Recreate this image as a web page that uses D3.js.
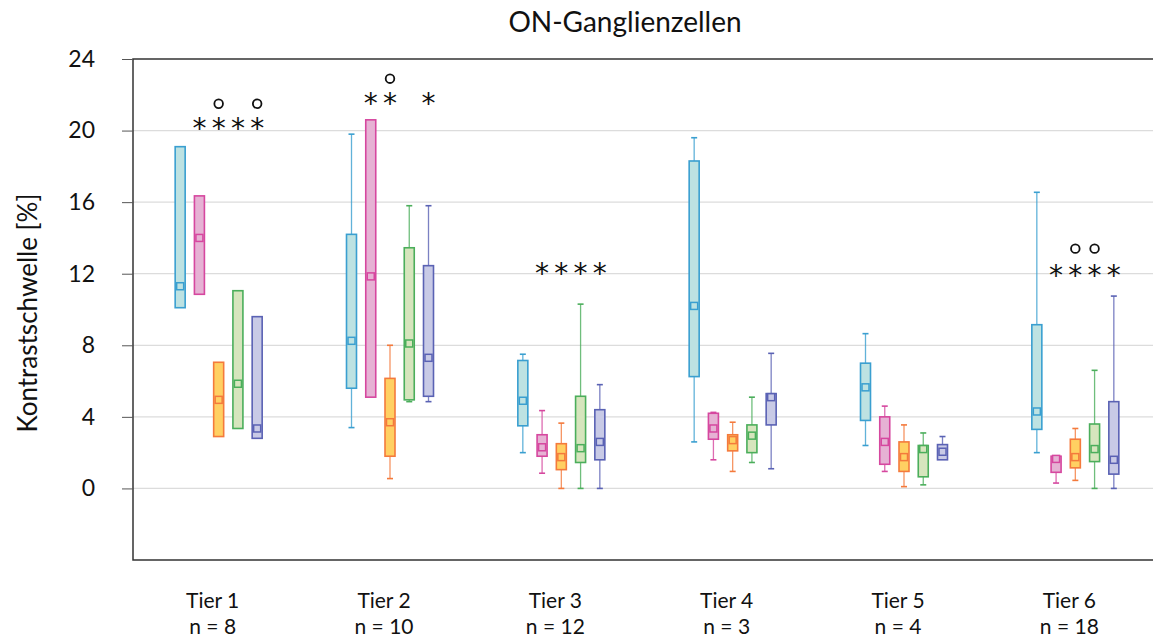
<!DOCTYPE html>
<html>
<head>
<meta charset="utf-8">
<script src="https://cdn.jsdelivr.net/npm/d3@7"></script>
<style>
  body { margin: 0; background: #fff; }
  text { font-family: Lato, "Open Sans", sans-serif; fill: #111; }
</style>
</head>
<body>
<svg id="chart" width="1153" height="639"></svg>
<script>
const tiers = ['Tier 1','Tier 2','Tier 3','Tier 4','Tier 5','Tier 6'];
const nValues = [8,10,12,3,4,18];
const yTicks = [0,4,8,12,16,20,24];

// box colours, one per series (cyan, pink, orange, green, purple)
const strokeCols = ['#3a9fd0','#d6479f','#f47a3c','#4bae5b','#5a62b4'];
const fillCols = ['#bde2e2','#e6b2d4','#ffd062','#d6e5bd','#c8cae6'];

// rows = tiers, columns = series
const lo = [
  [10.1,10.85,2.9,3.35,2.8],
  [3.4,5.1,0.55,4.85,4.85],
  [2.0,0.85,0,0,0],
  [2.6,1.6,0.95,1.45,1.1],
  [2.4,0.95,0.1,0.2,1.6],
  [2.0,0.3,0.45,0,0]
];
const q1 = [
  [10.1,10.85,2.9,3.35,2.8],
  [5.6,5.1,1.8,4.95,5.15],
  [3.5,1.8,1.05,1.45,1.6],
  [6.25,2.75,2.1,2.0,3.55],
  [3.8,1.35,0.95,0.65,1.6],
  [3.3,0.9,1.15,1.5,0.8]
];
const med = [
  [11.3,14.0,4.95,5.85,3.35],
  [8.25,11.85,3.7,8.1,7.3],
  [4.9,2.3,1.75,2.25,2.6],
  [10.2,3.35,2.7,2.95,5.1],
  [5.65,2.6,1.75,2.2,2.05],
  [4.3,1.65,1.75,2.2,1.6]
];
const q3 = [
  [19.1,16.35,7.05,11.05,9.6],
  [14.2,20.6,6.15,13.45,12.45],
  [7.15,3.0,2.5,5.15,4.4],
  [18.3,4.2,3.0,3.55,5.3],
  [7.0,4.0,2.6,2.4,2.45],
  [9.15,1.8,2.75,3.6,4.85]
];
const hi = [
  [19.1,16.35,7.05,11.05,9.6],
  [19.8,20.6,8.0,15.8,15.8],
  [7.5,4.35,3.65,10.3,5.8],
  [19.6,4.25,3.7,5.1,7.55],
  [8.65,4.6,3.55,3.1,2.9],
  [16.55,1.8,3.35,6.6,10.75]
];

// significance marks: tier index, series index, level
const stars = [
  [0,1,20.4],[0,2,20.4],[0,3,20.4],[0,4,20.4],
  [1,1,21.8],[1,2,21.8],[1,4,21.8],
  [2,1,12.3],[2,2,12.3],[2,3,12.3],[2,4,12.3],
  [5,1,12.2],[5,2,12.2],[5,3,12.2],[5,4,12.2]
];
const circles = [
  [0,2,21.5],[0,4,21.5],
  [1,2,22.9],
  [5,2,13.4],[5,3,13.4]
];

const svg = d3.select('#chart');
const plotL = 133, plotT = 59, plotB = 560, plotR = 1161;

const x = d3.scaleBand().domain(tiers).range([plotL, plotR]);
const sx = d3.scalePoint().domain(d3.range(5)).range([-38.5, 38.5]);
const y = d3.scaleLinear().domain([-4, 24]).range([plotB, plotT]);
const boxW = 10;

// gridlines
svg.append('g').selectAll('line')
  .data(yTicks.filter(t => t < 24))
  .join('line')
  .attr('x1', plotL).attr('x2', 1153)
  .attr('y1', d => y(d)).attr('y2', d => y(d))
  .attr('stroke', '#dcdcdc').attr('stroke-width', 1.3);

// frame
svg.append('path')
  .attr('d', `M1153,${plotT}H${plotL}V${plotB}H1153`)
  .attr('fill', 'none').attr('stroke', '#333').attr('stroke-width', 1.5);

// y axis
const yAxis = svg.append('g')
  .attr('transform', `translate(${plotL},0)`)
  .call(d3.axisLeft(y).tickValues(yTicks).tickSize(11).tickPadding(27));
yAxis.select('.domain').remove();
yAxis.selectAll('.tick line').attr('stroke', '#555');
yAxis.selectAll('.tick text')
  .style('font-family', 'Lato, sans-serif').style('font-size', '23px').attr('fill', '#1a1a1a');

// boxes
const items = [];
tiers.forEach((t, i) => {
  for (let s = 0; s < 5; s++) {
    items.push({t, i, s, lo: lo[i][s], q1: q1[i][s], med: med[i][s], q3: q3[i][s], hi: hi[i][s]});
  }
});
const cx = d => x(d.t) + x.bandwidth() / 2 + sx(d.s);

const g = svg.append('g').selectAll('g').data(items).join('g');

// whiskers
g.filter(d => d.hi > d.q3).append('line')
  .attr('x1', cx).attr('x2', cx)
  .attr('y1', d => y(d.q3)).attr('y2', d => y(d.hi))
  .attr('stroke', d => strokeCols[d.s]).attr('stroke-opacity', 0.8).attr('stroke-width', 1.3);
g.filter(d => d.lo < d.q1).append('line')
  .attr('x1', cx).attr('x2', cx)
  .attr('y1', d => y(d.q1)).attr('y2', d => y(d.lo))
  .attr('stroke', d => strokeCols[d.s]).attr('stroke-opacity', 0.8).attr('stroke-width', 1.3);
g.filter(d => d.hi > d.q3).append('line')
  .attr('x1', d => cx(d) - 3).attr('x2', d => cx(d) + 3)
  .attr('y1', d => y(d.hi)).attr('y2', d => y(d.hi))
  .attr('stroke', d => strokeCols[d.s]).attr('stroke-width', 1.6);
g.filter(d => d.lo < d.q1).append('line')
  .attr('x1', d => cx(d) - 3).attr('x2', d => cx(d) + 3)
  .attr('y1', d => y(d.lo)).attr('y2', d => y(d.lo))
  .attr('stroke', d => strokeCols[d.s]).attr('stroke-width', 1.6);

g.append('rect')
  .attr('x', d => cx(d) - boxW / 2)
  .attr('width', boxW)
  .attr('y', d => y(d.q3))
  .attr('height', d => y(d.q1) - y(d.q3))
  .attr('fill', d => fillCols[d.s])
  .attr('stroke', d => strokeCols[d.s]).attr('stroke-width', 1.6);

g.append('rect')
  .attr('x', d => cx(d) - 3.5)
  .attr('y', d => y(d.med) - 3.5)
  .attr('width', 7).attr('height', 7)
  .attr('fill', d => fillCols[d.s])
  .attr('stroke', d => strokeCols[d.s]).attr('stroke-width', 1.5);

// significance marks
const markX = d => x(tiers[d[0]]) + x.bandwidth() / 2 + sx(d[1]);
svg.append('g').selectAll('text')
  .data(stars).join('text')
  .attr('x', markX).attr('y', d => y(d[2]) + 15)
  .attr('text-anchor', 'middle')
  .style('font-family', '"DejaVu Sans", sans-serif').style('font-size', '28px')
  .text('*');
svg.append('g').selectAll('circle')
  .data(circles).join('circle')
  .attr('cx', markX).attr('cy', d => y(d[2]))
  .attr('r', 4.3)
  .attr('fill', 'none').attr('stroke', '#111').attr('stroke-width', 1.8);

// category labels
const labX = d => x(d) + x.bandwidth() / 2 - 6;
const lab = svg.append('g').selectAll('g').data(tiers).join('g');
lab.append('text')
  .attr('x', labX).attr('y', 608).attr('text-anchor', 'middle')
  .style('font-size', '21px').text(d => d);
lab.append('text')
  .attr('x', labX).attr('y', 634).attr('text-anchor', 'middle')
  .style('font-size', '21px').text((d, i) => 'n = ' + nValues[i]);

// titles
svg.append('text')
  .attr('x', 625).attr('y', 32).attr('text-anchor', 'middle')
  .style('font-size', '28px').text('ON-Ganglienzellen');
svg.append('text')
  .attr('transform', `translate(37,${y(9.8)}) rotate(-90)`)
  .attr('text-anchor', 'middle')
  .style('font-size', '26px').text('Kontrastschwelle [%]');
</script>
</body>
</html>
